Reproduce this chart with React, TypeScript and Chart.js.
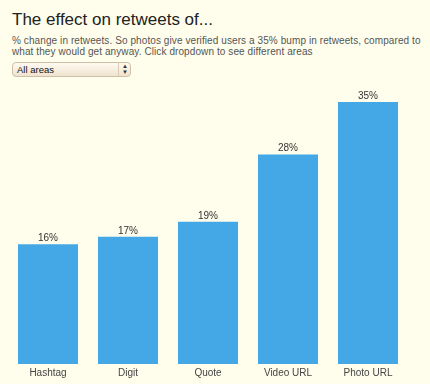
import React, { useEffect, useRef } from "react";
import { Chart, registerables } from "chart.js";

Chart.register(...registerables);

const categories = ["Hashtag", "Digit", "Quote", "Video URL", "Photo URL"];
const values = [16, 17, 19, 28, 35];
const valueLabels = ["16%", "17%", "19%", "28%", "35%"];

const FONT = "'Liberation Sans', Arial, Helvetica, sans-serif";

const labelPlugin = {
  id: "barLabels",
  afterDatasetsDraw(chart: any) {
    const ctx = chart.ctx;
    const meta = chart.getDatasetMeta(0);
    ctx.save();
    ctx.font = `10px ${FONT}`;
    ctx.fillStyle = "#333333";
    ctx.textAlign = "center";
    ctx.textBaseline = "bottom";
    meta.data.forEach((bar: any, i: number) => {
      ctx.fillText(valueLabels[i], bar.x, bar.y - 1);
    });
    ctx.restore();
  },
};

export default function App() {
  const canvasRef = useRef<HTMLCanvasElement | null>(null);

  useEffect(() => {
    if (!canvasRef.current) return;
    const chart = new Chart(canvasRef.current, {
      type: "bar",
      data: {
        labels: categories,
        datasets: [
          {
            data: values,
            backgroundColor: "#45a8e6",
            borderWidth: 0,
            barPercentage: 0.75,
            categoryPercentage: 1,
          },
        ],
      },
      options: {
        animation: false,
        responsive: false,
        maintainAspectRatio: false,
        layout: { padding: { left: 8, right: 22, top: 10.6, bottom: 2 } },
        plugins: {
          legend: { display: false },
          tooltip: { enabled: false },
          title: { display: false },
        },
        scales: {
          y: { display: false, min: 0, max: 36 },
          x: {
            grid: { display: false, drawTicks: false },
            border: { display: false },
            ticks: {
              color: "#444444",
              font: { family: FONT, size: 10 },
              padding: 3,
              maxRotation: 0,
            },
          },
        },
      },
      plugins: [labelPlugin],
    });
    return () => chart.destroy();
  }, []);

  return (
    <div
      style={{
        position: "fixed",
        left: 0,
        top: 0,
        width: 430,
        height: 384,
        background: "#fffeec",
        fontFamily: FONT,
        overflow: "hidden",
      }}
    >
      <div
        style={{
          position: "absolute",
          left: 12,
          top: 11,
          fontSize: 17,
          lineHeight: "18px",
          color: "#222222",
          whiteSpace: "nowrap",
        }}
      >
        The effect on retweets of...
      </div>
      <div
        style={{
          position: "absolute",
          left: 12,
          top: 35,
          width: 416,
          fontSize: 10,
          letterSpacing: 0.09,
          lineHeight: "11px",
          color: "#555555",
        }}
      >
        % change in retweets. So photos give verified users a 35% bump in retweets, compared to what they would get anyway. Click dropdown to see different areas
      </div>
      <div
        style={{
          position: "absolute",
          left: 12,
          top: 62,
          width: 117,
          height: 13,
          border: "1px solid #cdbfa8",
          borderRadius: 4,
          background: "linear-gradient(#fffaf0, #efe3d0)",
          boxSizing: "content-box",
        }}
      >
        <div
          style={{
            position: "absolute",
            left: 4,
            top: 1,
            fontSize: 9.5,
            lineHeight: "11px",
            color: "#111111",
          }}
        >
          All areas
        </div>
        <div
          style={{
            position: "absolute",
            left: 105,
            top: 0,
            width: 1,
            height: 13,
            background: "#d9ccb6",
          }}
        />
        <div
          style={{
            position: "absolute",
            left: 108,
            top: 1,
            fontSize: 6,
            lineHeight: "5.5px",
            color: "#333333",
            textAlign: "center",
            width: 8,
          }}
        >
          ▲<br />▼
        </div>
      </div>
      <canvas
        ref={canvasRef}
        width={430}
        height={300}
        style={{ position: "absolute", left: 0, top: 84, width: 430, height: 300 }}
      />
    </div>
  );
}
